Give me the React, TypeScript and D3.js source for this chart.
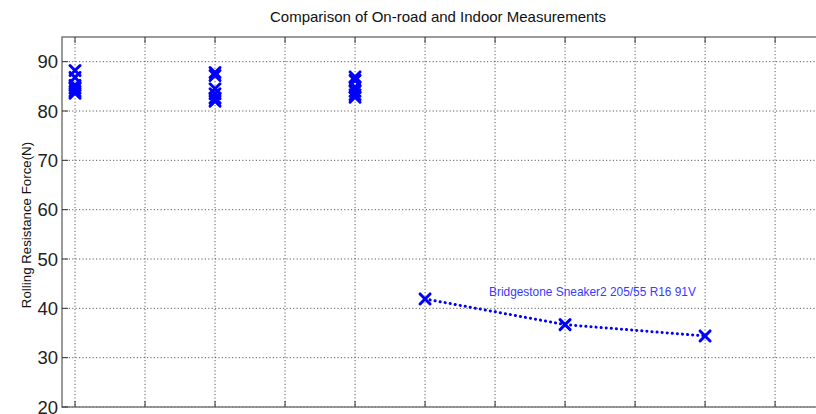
import React from "react";
import * as d3 from "d3";

const W = 816;
const H = 414;

const yTicks = [20, 30, 40, 50, 60, 70, 80, 90];
const xTicks = [1, 2, 3, 4, 5, 6, 7, 8, 9, 10, 11];

const onroadPositions = [1, 3, 5];
const onroadGroup1 = [88.2, 86.8, 85.2, 84.6, 84.0, 83.6];
const onroadGroup2 = [87.8, 87.2, 84.5, 83.5, 82.6, 82.0];
const onroadGroup3 = [86.9, 86.2, 84.8, 84.0, 83.3, 82.8];
const onroadGroups = [onroadGroup1, onroadGroup2, onroadGroup3];

const indoorX = [6, 8, 10];
const indoorY = [41.9, 36.7, 34.4];
const indoorLabel = "Bridgestone Sneaker2 205/55 R16 91V";

const title = "Comparison of On-road and Indoor Measurements";
const yLabel = "Rolling Resistance Force(N)";

export default function App() {
  const left = 62;
  const right = 822;
  const top = 37;
  const bottom = 407;
  const x = d3.scaleLinear().domain([0.814, 11.67]).range([left, right]);
  const y = d3.scaleLinear().domain([20, 95]).range([bottom, top]);

  const blue = "#0000ff";
  const grid = "#333";
  const axisColor = "#7a7a7a";

  const cross = (cx: number, cy: number, key: string) => {
    const s = 5;
    return (
      <g key={key} stroke={blue} strokeWidth={3} strokeLinecap="round">
        <line x1={cx - s} y1={cy - s} x2={cx + s} y2={cy + s} />
        <line x1={cx - s} y1={cy + s} x2={cx + s} y2={cy - s} />
      </g>
    );
  };

  const linePath = d3
    .line<number>()
    .x((_, i) => x(indoorX[i]))
    .y((d) => y(d))(indoorY);

  return (
    <svg
      width={W}
      height={H}
      style={{ position: "fixed", left: 0, top: 0, background: "#fff" }}
      fontFamily="Arial, 'Liberation Sans', Helvetica, sans-serif"
    >
      <rect x={0} y={0} width={W} height={H} fill="#fff" />
      {xTicks.map((t) => (
        <line
          key={"gx" + t}
          x1={x(t)}
          x2={x(t)}
          y1={top}
          y2={bottom}
          stroke={grid}
          strokeWidth={0.8}
          strokeDasharray="1.2,2.2"
        />
      ))}
      {yTicks.map((t) => (
        <line
          key={"gy" + t}
          x1={left}
          x2={right}
          y1={y(t)}
          y2={y(t)}
          stroke={grid}
          strokeWidth={0.8}
          strokeDasharray="1.2,2.2"
        />
      ))}
      <rect
        x={left}
        y={top}
        width={right - left}
        height={bottom - top}
        fill="none"
        stroke={axisColor}
        strokeWidth={1.5}
      />
      {yTicks.map((t) => (
        <g key={"ty" + t}>
          <line x1={left} x2={left + 6} y1={y(t)} y2={y(t)} stroke="#333" strokeWidth={1} />
          <line x1={right} x2={right - 6} y1={y(t)} y2={y(t)} stroke="#333" strokeWidth={1} />
          <text
            x={left - 4}
            y={y(t)}
            textAnchor="end"
            dominantBaseline="central"
            fontSize={18.5}
            fill="#222"
          >
            {t}
          </text>
        </g>
      ))}
      {xTicks.map((t) => (
        <g key={"tx" + t}>
          <line x1={x(t)} x2={x(t)} y1={top} y2={top + 6} stroke="#333" strokeWidth={1} />
          <line x1={x(t)} x2={x(t)} y1={bottom} y2={bottom - 6} stroke="#333" strokeWidth={1} />
        </g>
      ))}
      {onroadGroups.map((g, gi) =>
        g.map((v, i) => cross(x(onroadPositions[gi]), y(v), `c${gi}-${i}`))
      )}
      <path
        d={linePath || ""}
        fill="none"
        stroke={blue}
        strokeWidth={3}
        strokeDasharray="0.1,5"
        strokeLinecap="round"
      />
      {indoorY.map((v, i) => cross(x(indoorX[i]), y(v), `i${i}`))}
      <text x={489} y={296} fontSize={11.9} fill="#3a3aff">
        {indoorLabel}
      </text>
      <text x={438} y={22} textAnchor="middle" fontSize={15} fill="#111">
        {title}
      </text>
      <text
        transform={`translate(31, 225) rotate(-90)`}
        textAnchor="middle"
        fontSize={13.3}
        fill="#111"
      >
        {yLabel}
      </text>
    </svg>
  );
}
